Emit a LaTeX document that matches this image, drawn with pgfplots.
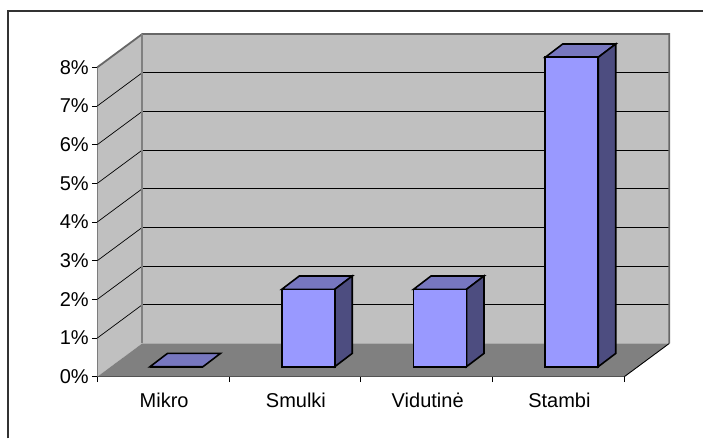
\documentclass[border=0pt]{standalone}
\usepackage{pgfplots}
\pgfplotsset{compat=1.18}
\usepackage{fontspec}
\setmainfont{Liberation Sans}
\definecolor{wall}{RGB}{192,192,192}
\definecolor{flr}{RGB}{128,128,128}
\definecolor{bfront}{RGB}{153,153,255}
\definecolor{btop}{RGB}{119,119,191}
\definecolor{bside}{RGB}{77,77,128}
\begin{document}
\begin{tikzpicture}[x=1pt,y=1pt]
\path[use as bounding box] (0,0) rectangle (703,439);
\draw[line width=1.3pt,draw=black!80] (8,0.7) -- (8,428) -- (703,428);
\begin{axis}[
  at={(97.3pt,62.3pt)},anchor=south west,
  scale only axis,width=527pt,height=309.4pt,
  xmin=-0.5,xmax=3.5,ymin=0,ymax=8,clip=false,
  axis x line=bottom,axis y line=left,
  axis line style={-,black,line width=0.9pt},
  xtick={0,1,2,3},xticklabels={Mikro,Smulki,Vidutinė,Stambi},
  minor xtick={-0.5,0.5,1.5,2.5,3.5},
  ytick={0,1,2,3,4,5,6,7,8},
  yticklabels={0\%,1\%,2\%,3\%,4\%,5\%,6\%,7\%,8\%},
  major x tick style={draw=none},
  minor x tick style={black,line width=0.9pt},
  minor tick length=5.5pt,
  y tick style={black,line width=0.9pt},
  major tick length=5.5pt,
  tick align=outside,
  tick label style={font=\fontsize{20}{22}\selectfont},
  xticklabel style={yshift=-7pt,xshift=1pt},
  yticklabel style={xshift=0.5pt},
  mybar/.style={xshift=13.3pt,yshift=10pt,draw=black,line width=1.6pt,line join=miter},
]
% side wall
\addplot[fill=wall,draw=none] coordinates {(-0.5,0)(-0.5,8)(-0.1584,8.861)(-0.1584,0.861)} -- cycle;
% back wall
\addplot[fill=wall,draw=none] coordinates {(-0.1584,0.861)(-0.1584,8.861)(3.8416,8.861)(3.8416,0.861)} -- cycle;
% floor
\addplot[fill=flr,draw=none] coordinates {(-0.5,0)(3.5,0)(3.8416,0.861)(-0.1584,0.861)} -- cycle;
\addplot[black,line width=0.9pt] coordinates {(3.5,0)(3.8416,0.861)};
% grid on the back wall and side wall
\pgfplotsinvokeforeach{1,2,3,4,5,6,7}{
  \addplot[black,line width=0.8pt,xshift=45pt,yshift=33.3pt] coordinates {(-0.5,#1)(3.5,#1)};
  \addplot[black,line width=0.7pt] coordinates {(-0.5,#1)(-0.1584,#1+0.861)};
}
% wall edges
\addplot[flr!120,line width=1.8pt] coordinates {(-0.5,8)(-0.1584,8.861)(3.8416,8.861)(3.8416,0.861)};
\addplot[flr,line width=2.2pt] coordinates {(-0.1584,8.861)(-0.1584,0.861)};
% bars
\addplot[mybar,fill=btop] coordinates {(-0.2011,0)(0.2011,0)(0.3339,0.344)(-0.0683,0.344)} -- cycle;
\addplot[mybar,fill=btop] coordinates {(0.7989,2)(1.2011,2)(1.3339,2.344)(0.9317,2.344)} -- cycle;
\addplot[mybar,fill=bside] coordinates {(1.2011,0)(1.2011,2)(1.3339,2.344)(1.3339,0.344)} -- cycle;
\addplot[mybar,fill=btop] coordinates {(1.7989,2)(2.2011,2)(2.3339,2.344)(1.9317,2.344)} -- cycle;
\addplot[mybar,fill=bside] coordinates {(2.2011,0)(2.2011,2)(2.3339,2.344)(2.3339,0.344)} -- cycle;
\addplot[mybar,fill=btop] coordinates {(2.7989,8)(3.2011,8)(3.3339,8.344)(2.9317,8.344)} -- cycle;
\addplot[mybar,fill=bside] coordinates {(3.2011,0)(3.2011,8)(3.3339,8.344)(3.3339,0.344)} -- cycle;
\addplot[mybar,ybar,bar width=53pt,fill=bfront] coordinates {(0,0)(1,2)(2,2)(3,8)};
\end{axis}
\end{tikzpicture}
\end{document}
